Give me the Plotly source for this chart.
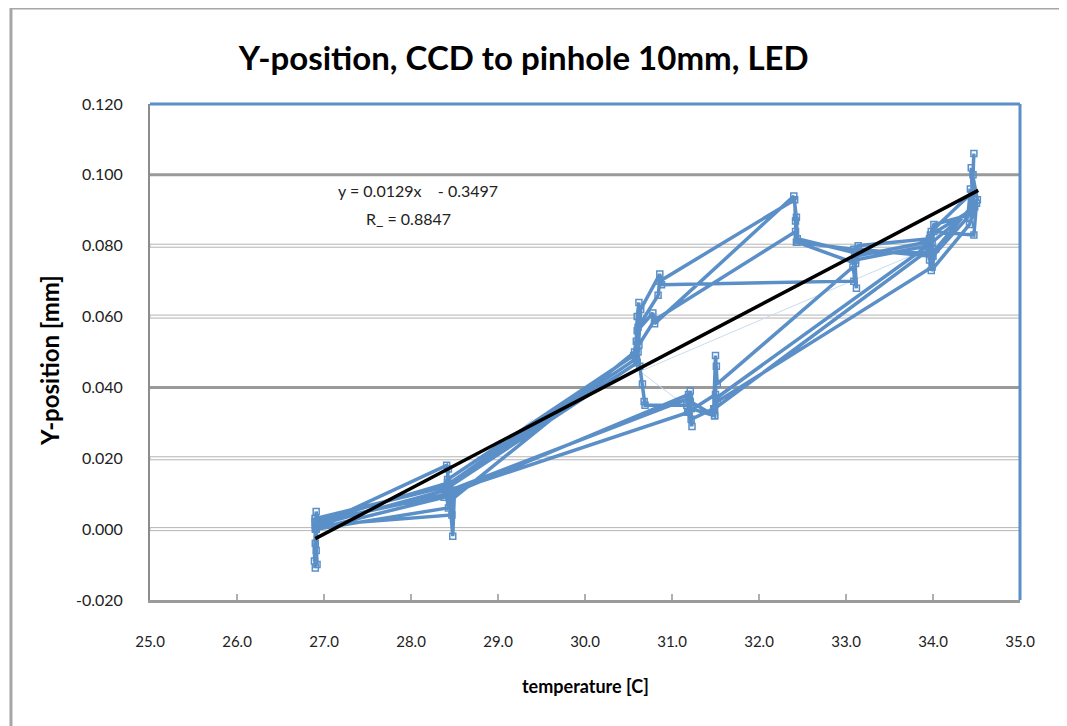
import plotly.graph_objects as go

# ---- data ----
cycle1_temp = [26.90, 26.91, 26.90, 28.40, 28.43, 28.41, 30.58, 30.60, 30.62, 30.61, 30.84, 30.86, 32.41, 32.42, 32.43,
               33.09, 33.11, 33.95, 33.97, 34.44, 34.46, 34.47, 34.45, 33.98, 33.96, 31.49, 31.51, 31.50, 31.18, 31.20,
               28.45, 28.47, 26.91, 26.90]
cycle1_y = [0.002, -0.006, 0.001, 0.011, 0.017, 0.012, 0.048, 0.060, 0.064, 0.057, 0.066, 0.070, 0.093, 0.087, 0.081,
            0.079, 0.076, 0.080, 0.083, 0.090, 0.100, 0.106, 0.095, 0.084, 0.079, 0.034, 0.046, 0.038, 0.033, 0.037,
            0.011, 0.004, 0.001, -0.004]

cycle2_temp = [26.89, 26.90, 28.38, 28.42, 30.56, 30.59, 30.63, 30.66, 30.68, 30.69, 31.17, 31.21, 31.22, 31.48, 31.50,
               31.52, 33.08, 33.12, 33.10, 33.93, 33.96, 34.40, 34.43, 34.48, 33.99, 34.00, 33.13, 33.11, 32.44, 32.42,
               30.80, 30.62, 30.60, 28.44, 28.41, 26.92, 26.91]
cycle2_y = [-0.009, 0.000, 0.009, 0.014, 0.049, 0.053, 0.046, 0.041, 0.036, 0.035, 0.035, 0.039, 0.031, 0.034, 0.049,
            0.041, 0.074, 0.068, 0.077, 0.081, 0.076, 0.088, 0.096, 0.091, 0.081, 0.077, 0.079, 0.075, 0.081, 0.084,
            0.059, 0.052, 0.047, 0.012, 0.018, 0.001, 0.005]

cycle3_temp = [26.90, 26.92, 28.44, 28.48, 28.50, 31.19, 31.23, 31.21, 31.49, 31.51, 33.94, 33.98, 34.42, 34.50, 34.47,
               34.01, 33.97, 33.12, 33.09, 30.88, 30.86, 30.64, 30.61, 28.39, 28.43, 26.91, 26.90]
cycle3_y = [-0.011, 0.002, 0.010, -0.002, 0.011, 0.033, 0.029, 0.036, 0.032, 0.037, 0.080, 0.073, 0.086, 0.092, 0.083,
            0.084, 0.078, 0.078, 0.070, 0.069, 0.072, 0.062, 0.050, 0.012, 0.006, 0.000, 0.003]

cycle4_temp = [26.91, 26.90, 28.41, 28.45, 30.57, 30.60, 30.78, 30.80, 32.40, 32.43, 32.44, 33.10, 33.14, 33.96, 34.01,
               34.46, 34.44, 34.51, 34.03, 33.99, 31.52, 31.49, 31.22, 31.19, 28.46, 28.42, 26.90, 26.92]
cycle4_y = [0.000, 0.003, 0.012, 0.008, 0.050, 0.056, 0.061, 0.058, 0.094, 0.088, 0.082, 0.078, 0.080, 0.082, 0.086,
            0.089, 0.102, 0.093, 0.079, 0.074, 0.036, 0.032, 0.034, 0.038, 0.010, 0.013, 0.002, -0.010]

faint_temp = [30.68, 33.92, None, 28.52, 29.40, None, 30.66, 31.20]
faint_y = [0.045, 0.079, None, 0.013, 0.031, None, 0.044, 0.034]

trend_slope = 0.0129
trend_intercept = -0.3497
trend_x = [26.90, 34.52]
trend_y = [trend_slope * x + trend_intercept for x in trend_x]

x_ticks = [25.0, 26.0, 27.0, 28.0, 29.0, 30.0, 31.0, 32.0, 33.0, 34.0, 35.0]
y_ticks = [-0.020, 0.000, 0.020, 0.040, 0.060, 0.080, 0.100, 0.120]
dark_grid = [0.100, 0.040]
light_grid = [0.000, 0.020, 0.060, 0.080]

temps = cycle1_temp + cycle2_temp + cycle3_temp + cycle4_temp
ypos = cycle1_y + cycle2_y + cycle3_y + cycle4_y

BLUE = "#5b8fc7"
FONT = "Lato"

fig = go.Figure()

fig.add_trace(go.Scatter(x=faint_temp, y=faint_y, mode="lines",
                         line=dict(color="#c9dbef", width=1), showlegend=False, hoverinfo="skip"))
fig.add_trace(go.Scatter(x=temps, y=ypos, mode="lines+markers",
                         line=dict(color=BLUE, width=3.5),
                         marker=dict(symbol="square-open", size=6, color=BLUE, line=dict(width=1.5, color=BLUE)),
                         showlegend=False))
fig.add_trace(go.Scatter(x=trend_x, y=trend_y, mode="lines",
                         line=dict(color="black", width=3.5), showlegend=False))

shapes = []
for v in dark_grid:
    shapes.append(dict(type="line", xref="paper", x0=0, x1=1, yref="y", y0=v, y1=v,
                       line=dict(color="#9a9a9a", width=3), layer="below"))
for v in light_grid:
    shapes.append(dict(type="rect", xref="paper", x0=0, x1=1, yref="y", ysizemode="pixel", yanchor=v,
                       y0=-1.5, y1=1.5, line=dict(color="#b4b4b4", width=1), layer="below"))
# blue top and right plot borders
shapes.append(dict(type="line", xref="paper", x0=0, x1=1, yref="paper", y0=1, y1=1,
                   line=dict(color=BLUE, width=3)))
shapes.append(dict(type="line", xref="paper", x0=1, x1=1, yref="paper", y0=0, y1=1,
                   line=dict(color=BLUE, width=3)))
# outer chart frame
shapes.append(dict(type="rect", xref="paper", yref="paper", x0=-0.1598, x1=1.0483, y0=-0.27, y1=1.1935,
                   line=dict(color="#a6a6a6", width=3), layer="below"))

fig.update_layout(
    width=1059, height=718,
    margin=dict(l=142, r=47, t=96, b=126),
    paper_bgcolor="white", plot_bgcolor="white",
    font=dict(family=FONT, size=15, color="#222222"),
    title=dict(text="<b>Y-position, CCD to pinhole 10mm, LED</b>", x=0.487, xanchor="center",
               y=0.93, yanchor="middle", font=dict(family=FONT, size=33, color="black")),
    xaxis=dict(range=[25.0, 35.0], tickvals=x_ticks, ticktext=[f"{t:.1f}" for t in x_ticks],
               showgrid=False, zeroline=False, showline=True, linecolor="#9a9a9a", linewidth=3,
               ticks="inside", ticklen=6, tickcolor="#b0b0b0", tickwidth=2,
               ticklabelstandoff=26, tickfont=dict(family=FONT, size=15, color="#222222")),
    yaxis=dict(range=[-0.020, 0.120], tickvals=y_ticks, ticktext=[f"{t:.3f}" for t in y_ticks],
               showgrid=False, zeroline=False, showline=True, linecolor="#8c8c8c", linewidth=2,
               ticks="", ticklabelstandoff=22, tickfont=dict(family=FONT, size=16, color="#222222")),
    shapes=shapes,
    annotations=[
        dict(text="y = 0.0129x \u00a0\u00a0\u00a0- 0.3497", x=28.08, y=0.0957, xref="x", yref="y",
             showarrow=False, font=dict(family=FONT, size=16, color="#222222")),
        dict(text="R_ = 0.8847", x=27.97, y=0.0878, xref="x", yref="y",
             showarrow=False, font=dict(family=FONT, size=16, color="#222222")),
        dict(text="<b>Y-position [mm]</b>", x=-0.115, y=0.484, xref="paper", yref="paper",
             xanchor="center", yanchor="middle",
             textangle=-90, showarrow=False, font=dict(family=FONT, size=24, color="black")),
        dict(text="<b>temperature [C]</b>", x=0.5, y=-0.173, xref="paper", yref="paper",
             xanchor="center", yanchor="middle",
             showarrow=False, font=dict(family=FONT, size=18, color="black")),
    ],
)

fig.write_html("out.html")
